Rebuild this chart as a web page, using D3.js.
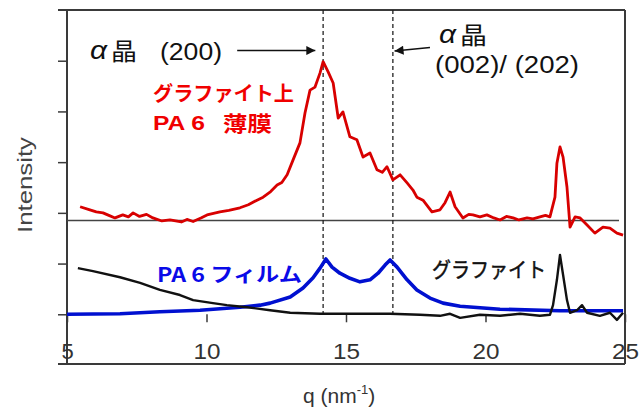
<!DOCTYPE html>
<html>
<head>
<meta charset="utf-8">
<script src="https://cdn.jsdelivr.net/npm/d3@7"></script>
<style>
  body { margin: 0; background: #fff; }
  text { font-family: "Liberation Sans", Arial, sans-serif; }
  .jp { font-family: "Noto Sans CJK JP", "Liberation Sans", sans-serif; }
</style>
</head>
<body>
<svg id="chart" width="644" height="411"></svg>
<script>
// q (nm^-1) vs intensity (arbitrary units)
const redQ = [5.47, 5.82, 6.05, 6.29, 6.5, 6.72, 7.0, 7.2, 7.37, 7.6, 7.85, 8.08, 8.4, 8.69, 9.1, 9.3, 9.52, 9.8, 10.02, 10.48, 10.8, 11.2, 11.5, 11.81, 12.03, 12.3, 12.53, 12.7, 12.89, 13.1, 13.35, 13.53, 13.71, 13.89, 14.07, 14.18, 14.36, 14.54, 14.72, 14.89, 15.14, 15.39, 15.61, 15.86, 16.11, 16.3, 16.47, 16.68, 16.94, 17.19, 17.4, 17.54, 17.76, 18.08, 18.37, 18.55, 18.73, 18.91, 19.19, 19.4, 19.55, 19.8, 20.05, 20.3, 20.52, 20.75, 20.99, 21.2, 21.49, 21.7, 21.95, 22.15, 22.31, 22.49, 22.56, 22.67, 22.78, 22.92, 23.03, 23.21, 23.39, 23.64, 23.92, 24.21, 24.46, 24.71, 24.93];
const redV = [2.12, 2.06, 2.02, 2.0, 1.95, 1.9, 1.96, 1.92, 2.0, 1.93, 1.97, 1.9, 1.84, 1.86, 1.82, 1.87, 1.83, 1.9, 1.96, 2.02, 2.05, 2.1, 2.16, 2.25, 2.31, 2.42, 2.55, 2.6, 2.75, 3.04, 3.38, 3.97, 4.42, 4.48, 4.76, 4.98, 4.78, 4.56, 3.87, 3.99, 3.5, 3.44, 3.1, 3.18, 2.85, 2.8, 2.91, 2.65, 2.75, 2.59, 2.45, 2.31, 2.25, 2.02, 2.06, 2.2, 2.41, 2.12, 1.9, 1.97, 1.96, 1.92, 1.96, 1.9, 1.86, 1.93, 1.9, 1.86, 1.9, 1.88, 1.92, 1.95, 1.92, 2.31, 2.98, 3.3, 3.1, 2.51, 1.72, 1.92, 1.9, 1.76, 1.6, 1.72, 1.7, 1.6, 1.56];

const blueQ = [5.0, 6.9, 8.33, 9.77, 11.2, 11.92, 12.28, 13.0, 13.46, 13.82, 14.07, 14.28, 14.5, 14.78, 15.14, 15.5, 15.86, 16.15, 16.4, 16.58, 16.83, 17.19, 17.54, 18.01, 18.48, 19.09, 20.52, 22.67, 24.93];
const blueV = [0.0, 0.01, 0.05, 0.08, 0.14, 0.18, 0.22, 0.34, 0.52, 0.72, 0.91, 1.09, 0.93, 0.81, 0.71, 0.64, 0.68, 0.81, 0.97, 1.07, 0.93, 0.68, 0.48, 0.32, 0.22, 0.16, 0.1, 0.07, 0.07];

const blackQ = [5.39, 5.93, 6.9, 7.62, 8.33, 9.05, 9.52, 10.23, 10.73, 11.45, 12.28, 13.0, 14.07, 15.14, 16.58, 17.65, 18.37, 18.73, 19.09, 19.8, 20.52, 21.24, 21.95, 22.31, 22.42, 22.56, 22.67, 22.78, 22.92, 23.03, 23.28, 23.46, 23.64, 24.1, 24.46, 24.71, 24.93];
const blackV = [0.91, 0.85, 0.73, 0.62, 0.48, 0.38, 0.28, 0.22, 0.18, 0.14, 0.08, 0.03, 0.01, 0.01, 0.01, -0.01, -0.03, 0.01, -0.07, -0.01, -0.03, 0.01, -0.03, -0.01, 0.18, 0.68, 1.17, 0.78, 0.28, 0.03, 0.08, 0.18, 0.03, -0.03, 0.03, -0.11, 0.03];

const xTicks = [5, 10, 15, 20, 25];
const yTicks = [0, 1, 2, 3, 4, 5];
const peakLines = [14.18, 16.68];   // alpha (200) and (002)/(202)
const upperBase = 1.85;             // baseline of the upper trace

const svg = d3.select("#chart");
const L = 67, R = 625, T = 10, B = 364;

const x = d3.scaleLinear().domain([5, 25]).range([L, R]);
const y = d3.scaleLinear().domain([-1, 6]).range([365, T]);

const zip = (qs, vs) => qs.map((q, i) => [q, vs[i]]);
const line = d3.line().x(d => x(d[0])).y(d => y(d[1]));

// frame
const frame = svg.append("g").attr("stroke", "#3a3a3a").attr("stroke-width", 2);
frame.append("line").attr("x1", 58).attr("x2", R).attr("y1", T).attr("y2", T);
frame.append("line").attr("x1", 58).attr("x2", R).attr("y1", B).attr("y2", B);
frame.append("line").attr("x1", L).attr("x2", L).attr("y1", T).attr("y2", B);
frame.append("line").attr("x1", R).attr("x2", R).attr("y1", T).attr("y2", B);

// y ticks (no labels)
const yAxis = svg.append("g")
  .attr("transform", `translate(${L},0)`)
  .call(d3.axisLeft(y).tickValues(yTicks).tickSize(9).tickFormat(""));
yAxis.select(".domain").remove();
yAxis.selectAll("line").attr("stroke", "#3a3a3a").attr("stroke-width", 1.5);

// x ticks hang from the zero line, labels sit near the bottom
const xAxis = svg.append("g")
  .attr("transform", `translate(0,${y(0)})`)
  .call(d3.axisBottom(x).tickValues(xTicks).tickSize(8).tickPadding(21));
xAxis.select(".domain").remove();
xAxis.selectAll("line").attr("stroke", "#3a3a3a").attr("stroke-width", 1.5);
xAxis.selectAll("text")
  .attr("fill", "#333")
  .attr("font-size", 22)
  .attr("font-family", "Liberation Sans, Arial, sans-serif")
  .attr("textLength", 27)
  .attr("lengthAdjust", "spacingAndGlyphs")
  .filter(d => d === 5).attr("textLength", null);

// separator / baseline of the upper trace
svg.append("line")
  .attr("x1", L).attr("x2", 619)
  .attr("y1", y(upperBase)).attr("y2", y(upperBase))
  .attr("stroke", "#444").attr("stroke-width", 1.5);

// dashed reflection markers
svg.selectAll(".peak").data(peakLines).join("line")
  .attr("class", "peak")
  .attr("x1", d => x(d)).attr("x2", d => x(d))
  .attr("y1", T).attr("y2", y(-0.07))
  .attr("stroke", "#222").attr("stroke-width", 1.3)
  .attr("stroke-dasharray", "4,3");

// traces
svg.append("path").datum(zip(blueQ, blueV)).attr("d", line)
  .attr("fill", "none").attr("stroke", "#0010d0").attr("stroke-width", 3.6)
  .attr("stroke-linejoin", "round");
svg.append("path").datum(zip(blackQ, blackV)).attr("d", line)
  .attr("fill", "none").attr("stroke", "#111").attr("stroke-width", 2.4)
  .attr("stroke-linejoin", "round");
svg.append("path").datum(zip(redQ, redV)).attr("d", line)
  .attr("fill", "none").attr("stroke", "#d80000").attr("stroke-width", 2.8)
  .attr("stroke-linejoin", "round");

// arrows
const defs = svg.append("defs");
defs.append("marker").attr("id", "head")
  .attr("viewBox", "0 0 10 10").attr("refX", 10).attr("refY", 5)
  .attr("markerWidth", 12).attr("markerHeight", 9)
  .attr("markerUnits", "userSpaceOnUse").attr("orient", "auto")
  .append("path").attr("d", "M0,0 L10,5 L0,10 Z").attr("fill", "#111");

const arrows = [
  { from: [11.1, 5.2], to: [13.9, 5.2] },
  { from: [18.01, 5.26], to: [16.74, 5.19] }
];
svg.selectAll(".arrow").data(arrows).join("line")
  .attr("class", "arrow")
  .attr("x1", d => x(d.from[0])).attr("y1", d => y(d.from[1]))
  .attr("x2", d => x(d.to[0])).attr("y2", d => y(d.to[1]))
  .attr("stroke", "#111").attr("stroke-width", 1.6)
  .attr("marker-end", "url(#head)");

// helper for stretched labels
function label(txt, px, py, opts) {
  const t = svg.append("text").attr("x", px).attr("y", py).text(txt)
    .attr("font-size", opts.size || 21)
    .attr("fill", opts.fill || "#111");
  if (opts.cls) t.attr("class", opts.cls);
  if (opts.weight) t.attr("font-weight", opts.weight);
  if (opts.len) t.attr("textLength", opts.len).attr("lengthAdjust", "spacingAndGlyphs");
  return t;
}

// alpha crystal annotations
label("α", 90, 59, { size: 25, len: 17 }).attr("font-style", "italic");
label("晶", 111, 60, { size: 24, cls: "jp", len: 26 });
label("(200)", 160, 60, { size: 23, len: 62 });
label("α", 439, 43, { size: 25, len: 17 }).attr("font-style", "italic");
label("晶", 460, 44, { size: 24, cls: "jp", len: 27 });
label("(002)/ (202)", 435, 73, { size: 23, len: 144 });

// trace labels
label("グラファイト上", 153, 101, { size: 20, cls: "jp", weight: "bold", fill: "#f00000", len: 141 });
label("PA 6", 153, 130, { size: 20, weight: "bold", fill: "#f00000", len: 52 });
label("薄膜", 223, 131, { size: 21, cls: "jp", weight: "bold", fill: "#f00000", len: 49 });
label("PA 6 フィルム", 157, 282, { size: 20, cls: "jp", weight: "bold", fill: "#0a0ae8", len: 145 });
label("グラファイト", 432, 277, { size: 21, cls: "jp", fill: "#111", len: 114 })
  .attr("stroke", "#111").attr("stroke-width", 0.5);

// axis titles
svg.append("text")
  .attr("transform", "translate(32,185) rotate(-90)")
  .attr("text-anchor", "middle")
  .attr("font-size", 21).attr("fill", "#444")
  .attr("textLength", 96).attr("lengthAdjust", "spacingAndGlyphs")
  .text("Intensity");

const xt = svg.append("text")
  .attr("x", 303).attr("y", 403)
  .attr("font-size", 21).attr("fill", "#333");
xt.append("tspan").text("q (nm");
xt.append("tspan").attr("font-size", 13).attr("dy", -9).text("-1");
xt.append("tspan").attr("dy", 9).text(")");
</script>
</body>
</html>
